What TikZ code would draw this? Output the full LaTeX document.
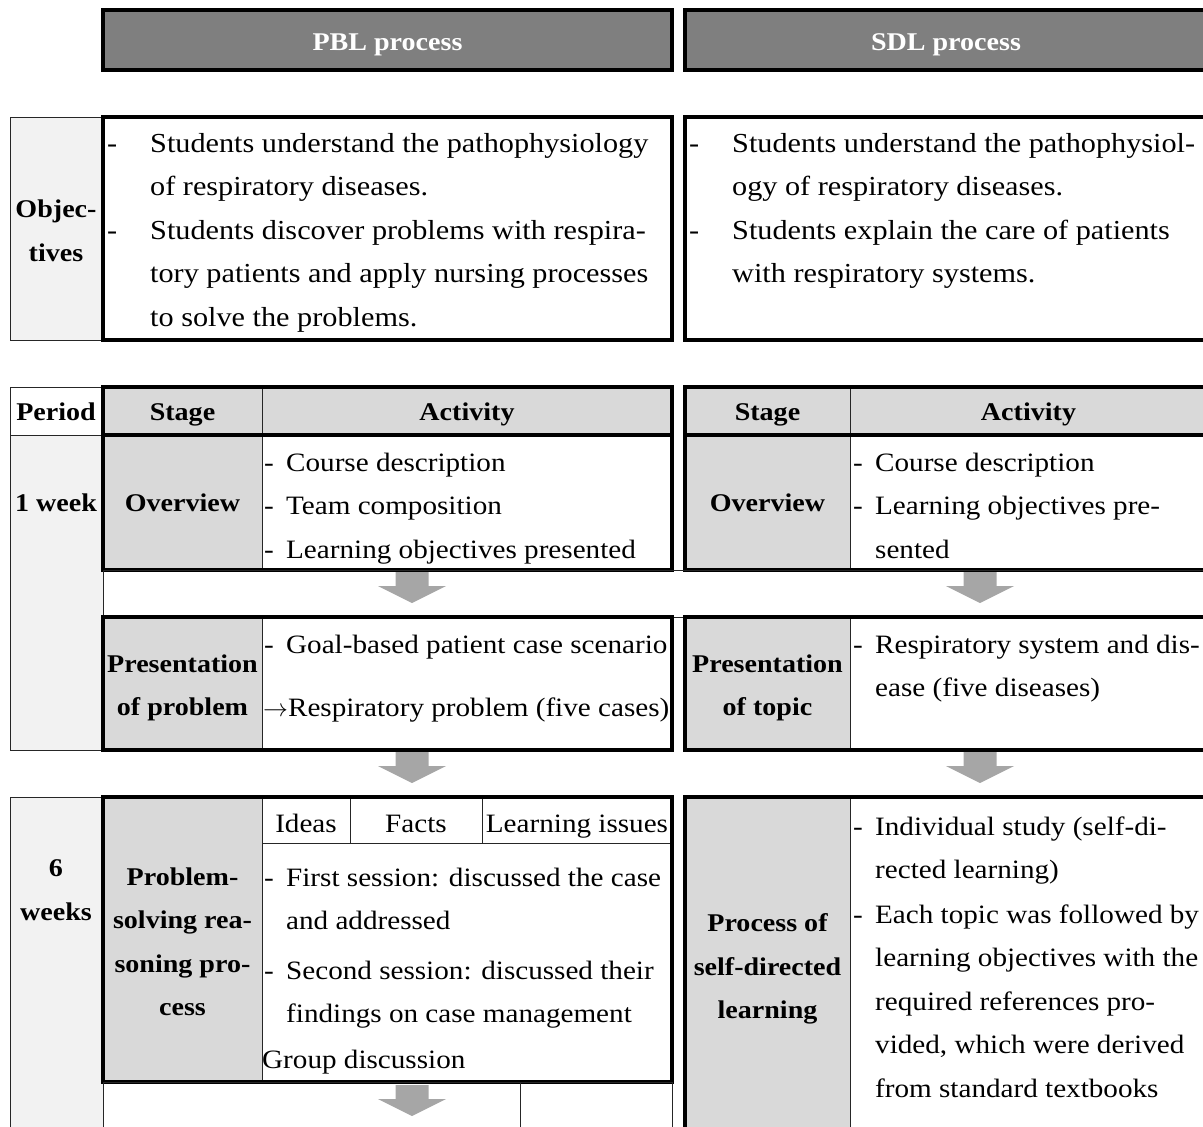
\documentclass[tikz,border=0pt]{standalone}
\usepackage{fontspec}
\setmainfont{Liberation Serif}[FakeStretch=1.10]
\usetikzlibrary{positioning}
\definecolor{hdrgray}{HTML}{7F7F7F}
\definecolor{stagegray}{HTML}{D9D9D9}
\definecolor{periodgray}{HTML}{F2F2F2}
\definecolor{arrowgray}{HTML}{A6A6A6}
\newcommand{\bodyfont}{\fontsize{26.5}{43.5}\selectfont}
\newcommand{\objfont}{\fontsize{27.5}{43.5}\selectfont}
\newcommand{\boldfont}{\fontsize{25.5}{43.5}\selectfont\bfseries}
\newcommand{\dsh}{\makebox[22pt][l]{-}}
\newcommand{\ind}{\hspace*{22pt}}
\newcommand{\odsh}{\makebox[43pt][l]{-}}
\newcommand{\oind}{\hspace*{43pt}}
\tikzset{
    thincell/.style={draw=black!85, line width=1pt},
    thickbox/.style={draw=black, line width=3.5pt},
    hdrbox/.style={thickbox, fill=hdrgray},
    txt/.style={anchor=north west, inner sep=0pt, align=left, font=\bodyfont},
    lbl/.style={inner sep=0pt, align=center, font=\boldfont},
    blbl/.style={lbl, anchor=base},
    plain/.style={inner sep=0pt, anchor=base, font=\bodyfont},
    downarrow/.pic={\fill[arrowgray] (-16.5,0) -- (16.5,0) -- (16.5,14) -- (34,14)
        -- (0,31) -- (-34,14) -- (-16.5,14) -- cycle;},
}

\begin{document}
\begin{tikzpicture}[x=1pt, y=-1pt]
\useasboundingbox (0,0) rectangle (1203,1127);
\clip (0,0) rectangle (1203,1127);

% process headers
\draw[hdrbox] (103,10) rectangle (672,70);
\draw[hdrbox] (685,10) rectangle (1207,70);
\node[blbl, text=white] (pblhead) at (387.5,50) {PBL process};
\node[blbl, text=white] (sdlhead) at (946,50) {SDL process};

% objectives
\draw[thincell, fill=periodgray] (10,117) rectangle (103,340);
\draw[thickbox] (103,117) rectangle (672,340);
\draw[thickbox] (685,117) rectangle (1207,340);
\node[lbl] (objlbl) at (56,231) {Objec-\\tives};
\node[txt, font=\objfont] (pblobj) at (107,121.5) {\strut\odsh Students understand the pathophysiology\\
    \oind of respiratory diseases.\\
    \odsh Students discover problems with respira-\\
    \oind tory patients and apply nursing processes\\
    \oind to solve the problems.};
\node[txt, font=\objfont] (sdlobj) at (689,121.5) {\strut\odsh Students understand the pathophysiol-\\
    \oind ogy of respiratory diseases.\\
    \odsh Students explain the care of patients\\
    \oind with respiratory systems.};

% table header
\draw[thincell] (10,387) rectangle (103,435);
\draw[thincell, fill=stagegray] (103,387) rectangle (672,435);
\draw[thincell] (262,387) -- (262,435);
\draw[thickbox] (103,387) rectangle (672,435);
\draw[thincell, fill=stagegray] (685,387) rectangle (1207,435);
\draw[thincell] (850,387) -- (850,435);
\draw[thickbox] (685,387) rectangle (1207,435);
\node[blbl] (period) at (56,420) {Period};
\node[blbl] (pblstage) at (182.5,420) {Stage};
\node[blbl] (pblact) at (467,420) {Activity};
\node[blbl] (sdlstage) at (767.5,420) {Stage};
\node[blbl] (sdlact) at (1028.5,420) {Activity};

% week 1: overview
\draw[thincell, fill=periodgray] (10,435) rectangle (103,750);
\draw[thincell, fill=stagegray] (103,435) rectangle (262,570);
\draw[thickbox] (103,435) rectangle (672,570);
\draw[thincell, fill=stagegray] (685,435) rectangle (850,570);
\draw[thickbox] (685,435) rectangle (1207,570);
\node[blbl] (wk1) at (56,511) {1 week};
\node[blbl] (pblov) at (182.5,511) {Overview};
\node[blbl] (sdlov) at (767.5,511) {Overview};
\node[txt] (pblovtxt) at (264,440.5) {\strut\dsh Course description\\
    \dsh Team composition\\
    \dsh Learning objectives presented};
\node[txt] (sdlovtxt) at (853,440.5) {\strut\dsh Course description\\
    \dsh Learning objectives pre-\\
    \ind sented};

% gap with arrows
\draw[thincell] (103,570) rectangle (1207,617);
\pic (arrpbla) at (412,572) {downarrow};
\pic (arrsdla) at (980,572) {downarrow};

% week 1: presentation
\draw[thincell, fill=stagegray] (103,617) rectangle (262,750);
\draw[thickbox] (103,617) rectangle (672,750);
\draw[thincell, fill=stagegray] (685,617) rectangle (850,750);
\draw[thickbox] (685,617) rectangle (1207,750);
\node[lbl] (pblpres) at (182.5,688) {Presentation\\of problem};
\node[lbl] (sdlpres) at (767.5,688) {Presentation\\of topic};
\node[txt] (pblprestxt) at (264,622.5) {\strut\dsh Goal-based patient case scenario};
\node[txt] (pblprestxtb) at (263,685.5) {\strut$\rightarrow$Respiratory problem (five cases)};
\node[txt] (sdlprestxt) at (853,622.5) {\strut\dsh Respiratory system and dis-\\
    \ind ease (five diseases)};

\pic (arrpblb) at (412,752) {downarrow};
\pic (arrsdlb) at (980,752) {downarrow};

% weeks 2-7
\draw[thincell, fill=periodgray] (10,797) rectangle (103,1140);
\draw[thincell, fill=stagegray] (103,797) rectangle (262,1082);
\draw[thincell] (262,843) -- (672,843);
\draw[thincell] (350,797) -- (350,843);
\draw[thincell] (482,797) -- (482,843);
\draw[thickbox] (103,797) rectangle (672,1082);
\draw[thincell] (103,1082) rectangle (672,1140);
\draw[thincell] (520,1082) -- (520,1140);
\pic (arrpblc) at (412,1085) {downarrow};
\draw[thincell, fill=stagegray] (685,797) rectangle (850,1140);
\draw[thickbox] (685,797) rectangle (1207,1140);

\node[lbl] (wk6) at (56,890) {6\\weeks};
\node[lbl] (pblprob) at (182.5,942) {Problem-\\solving rea-\\soning pro-\\cess};
\node[plain] (ideas) at (306,832) {Ideas};
\node[plain] (facts) at (416,832) {Facts};
\node[plain] (issues) at (577,832) {Learning issues};
\node[txt] (firstses) at (264,855.5) {\strut\dsh First session: discussed the case\\
    \ind and addressed};
\node[txt] (secondses) at (264,948.5) {\strut\dsh Second session: discussed their\\
    \ind findings on case management};
\node[txt] (groupdisc) at (262,1037.5) {\strut Group discussion};

\node[lbl] (sdlproc) at (767.5,969) {Process of\\self-directed\\learning};
\node[txt] (indiv) at (853,804.5) {\strut\dsh Individual study (self-di-\\
    \ind rected learning)};
\node[txt] (eachtopic) at (853,892.5) {\strut\dsh Each topic was followed by\\
    \ind learning objectives with the\\
    \ind required references pro-\\
    \ind vided, which were derived\\
    \ind from standard textbooks};
\end{tikzpicture}
\end{document}
